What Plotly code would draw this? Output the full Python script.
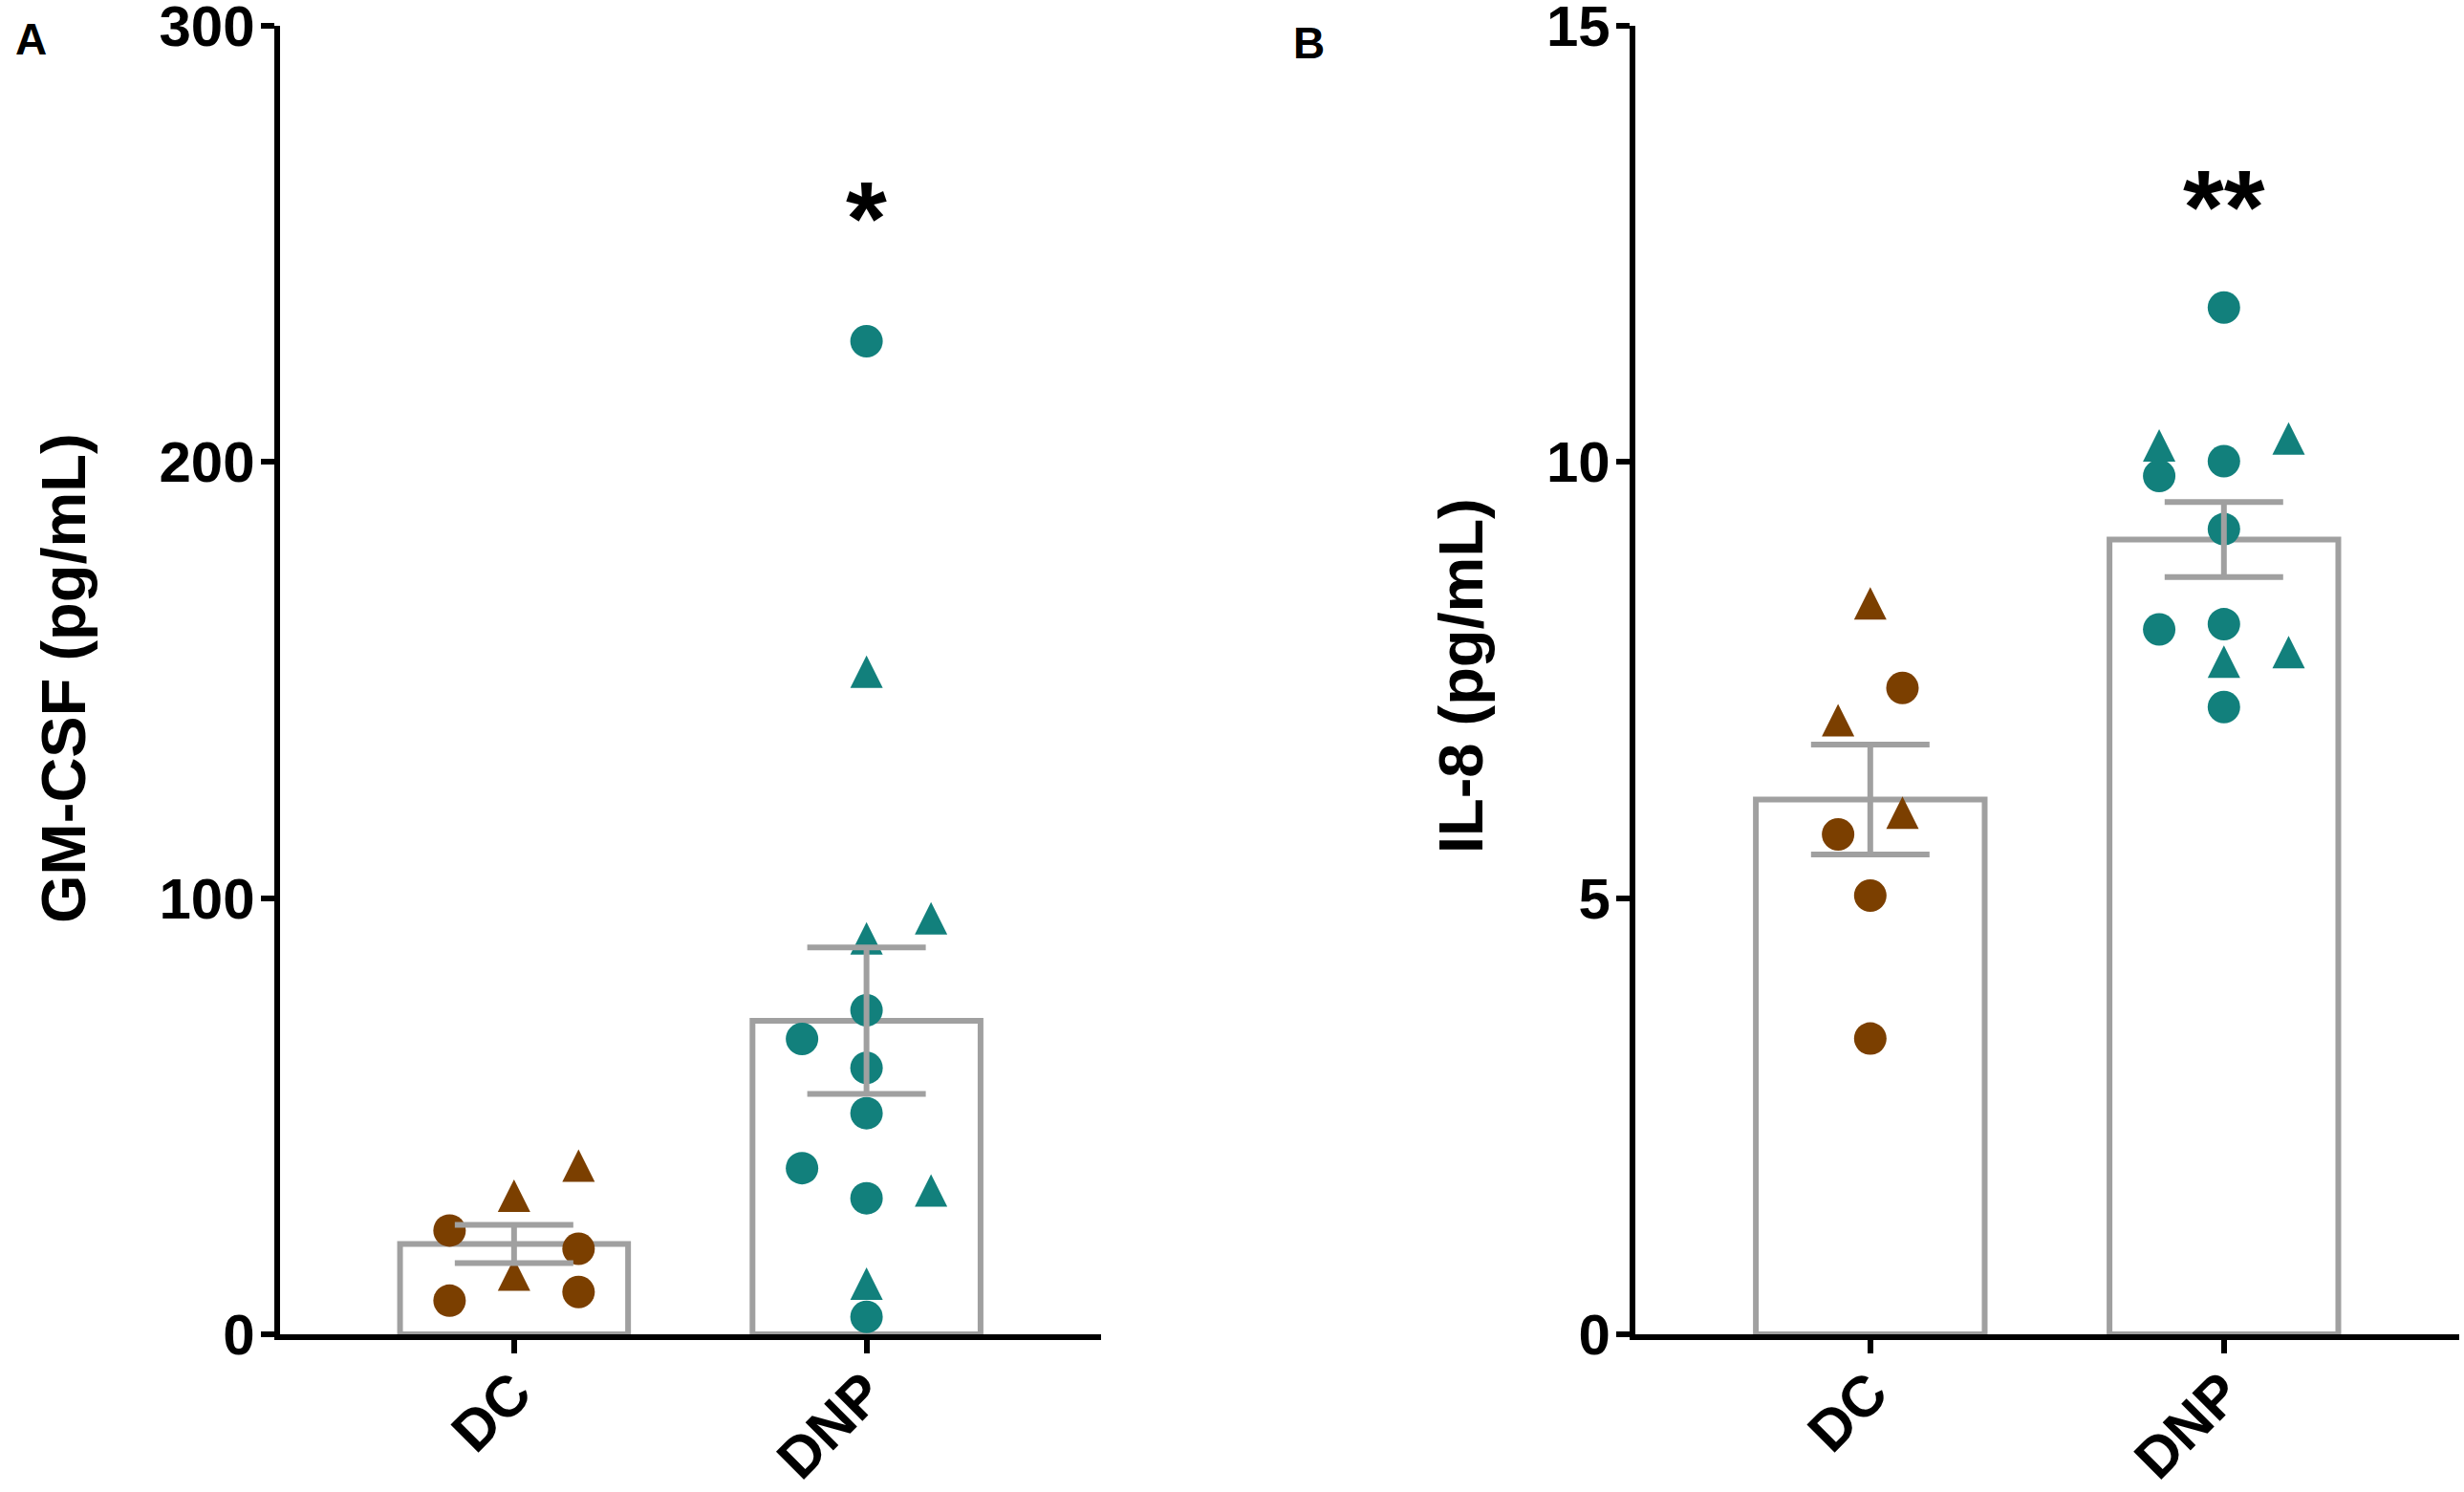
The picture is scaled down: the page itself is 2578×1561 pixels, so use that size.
import plotly.graph_objects as go

# values (GM-CSF panel A, IL-8 panel B)
groups = ["DC", "DNP"]

gm_mean = [20.7, 71.9]
gm_sem = [4.4, 16.8]
gm_dc_circle = [23.8, 7.7, 19.6, 9.7]
gm_dc_triangle = [31.8, 13.7, 38.7]
gm_dnp_circle = [227.7, 74.3, 67.7, 61.1, 50.7, 38.1, 31.2, 4.0]
gm_dnp_triangle = [151.9, 90.8, 95.4, 33.0, 11.6]

il8_mean = [6.13, 9.11]
il8_sem = [0.63, 0.43]
il8_dc_circle = [7.41, 5.73, 5.03, 3.39]
il8_dc_triangle = [8.38, 7.04, 5.98]
il8_dnp_circle = [11.77, 10.01, 9.84, 9.23, 8.14, 8.08, 7.19]
il8_dnp_triangle = [10.27, 10.19, 7.82, 7.71]

# horizontal scatter columns of the points (category units)
gm_dc_circle_dx = [-0.183, -0.183, 0.183, 0.183]
gm_dc_triangle_dx = [0, 0, 0.183]
gm_dnp_circle_dx = [0, 0, -0.183, 0, 0, -0.183, 0, 0]
gm_dnp_triangle_dx = [0, 0, 0.183, 0.183, 0]
il8_dc_circle_dx = [0.091, -0.091, 0, 0]
il8_dc_triangle_dx = [0, -0.091, 0.091]
il8_dnp_circle_dx = [0, 0, -0.183, 0, 0, -0.183, 0]
il8_dnp_triangle_dx = [0.183, -0.183, 0.183, 0]

BROWN = "#7B3F00"
TEAL = "#12807C"
GRAY = "#A0A0A0"
FONT = "Liberation Sans, Arial, sans-serif"

W, H = 2578, 1561
MSIZE = 34

fig = go.Figure()


def add_panel(xa, ya, mean, sem, pts):
    fig.add_trace(go.Bar(x=[0, 1], y=mean, width=0.647, xaxis=xa, yaxis=ya,
                         marker=dict(color="rgba(255,255,255,0)",
                                     line=dict(color=GRAY, width=6))))
    for idx, vals, dx, color, shape in pts:
        xs = [idx + d for d in dx]
        if shape == "circle":
            mk = dict(symbol="circle", size=MSIZE, color=color, line=dict(width=0))
        else:
            # arrow head flipped and pushed back so it is centred on the value
            mk = dict(symbol="arrow-down", angle=180, standoff=MSIZE / 2,
                      size=MSIZE, color=color, line=dict(width=0))
        fig.add_trace(go.Scatter(x=xs, y=vals, mode="markers", marker=mk,
                                 xaxis=xa, yaxis=ya, cliponaxis=False))
    # error bars drawn on top
    fig.add_trace(go.Scatter(x=[0, 1], y=mean, mode="markers", xaxis=xa, yaxis=ya,
                             marker=dict(size=1, color="rgba(0,0,0,0)"),
                             error_y=dict(type="data", array=sem, color=GRAY,
                                          thickness=6, width=62)))


add_panel("x", "y", gm_mean, gm_sem, [
    (0, gm_dc_circle, gm_dc_circle_dx, BROWN, "circle"),
    (0, gm_dc_triangle, gm_dc_triangle_dx, BROWN, "triangle"),
    (1, gm_dnp_circle, gm_dnp_circle_dx, TEAL, "circle"),
    (1, gm_dnp_triangle, gm_dnp_triangle_dx, TEAL, "triangle"),
])
add_panel("x2", "y2", il8_mean, il8_sem, [
    (0, il8_dc_circle, il8_dc_circle_dx, BROWN, "circle"),
    (0, il8_dc_triangle, il8_dc_triangle_dx, BROWN, "triangle"),
    (1, il8_dnp_circle, il8_dnp_circle_dx, TEAL, "circle"),
    (1, il8_dnp_triangle, il8_dnp_triangle_dx, TEAL, "triangle"),
])

xcommon = dict(range=[-0.665, 1.665], showline=True, linecolor="black", linewidth=6,
               ticks="outside", ticklen=14, tickwidth=6, tickcolor="black",
               tickvals=[0, 1], ticktext=groups, tickangle=-45, ticklabelstandoff=-18,
               tickfont=dict(family=FONT, size=60, color="black", weight="bold"),
               showgrid=False, zeroline=False, fixedrange=True, automargin=False)
ycommon = dict(showline=True, linecolor="black", linewidth=6, ticks="outside",
               ticklen=14, tickwidth=6, tickcolor="black", ticklabeloverflow="allow",
               ticklabelstandoff=-6,
               tickfont=dict(family=FONT, size=60, color="black", weight="bold"),
               showgrid=False, zeroline=False, domain=[0.1057, 0.9827],
               automargin=False)

fig.update_layout(
    width=W, height=H, autosize=False,
    margin=dict(l=0, r=0, t=0, b=0, pad=0),
    paper_bgcolor="white", plot_bgcolor="white",
    showlegend=False, barmode="overlay",
    xaxis=dict(domain=[0.1135, 0.4468], anchor="y", **xcommon),
    yaxis=dict(range=[0, 300], tickvals=[0, 100, 200, 300], anchor="x", **ycommon),
    xaxis2=dict(domain=[0.6636, 0.998], anchor="y2", **xcommon),
    yaxis2=dict(range=[0, 15], tickvals=[0, 5, 10, 15], anchor="x2", **ycommon),
)

ann = [
    dict(text="A", x=0.0126, y=0.9737, size=46, angle=0),
    dict(text="B", x=0.5314, y=0.9712, size=46, angle=0),
    dict(text="GM-CSF (pg/mL)", x=0.026, y=0.5452, size=65, angle=-90),
    dict(text="IL-8 (pg/mL)", x=0.5927, y=0.547, size=65, angle=-90),
]
for a in ann:
    fig.add_annotation(text=a["text"], x=a["x"], y=a["y"], xref="paper", yref="paper",
                       showarrow=False, textangle=a["angle"],
                       xanchor="center", yanchor="middle",
                       font=dict(family=FONT, size=a["size"], color="black", weight="bold"))

# significance marks above DNP
fig.add_annotation(text="*", x=1, xref="x", y=0.895, yref="paper", showarrow=False,
                   font=dict(family=FONT, size=110, color="black", weight="bold"))
fig.add_annotation(text="**", x=1, xref="x2", y=0.9026, yref="paper", showarrow=False,
                   font=dict(family=FONT, size=110, color="black", weight="bold"))

fig.write_html("out.html", config={"displayModeBar": False},
               post_script="document.body.style.margin='0';"
                           "document.documentElement.style.overflow='hidden';")
